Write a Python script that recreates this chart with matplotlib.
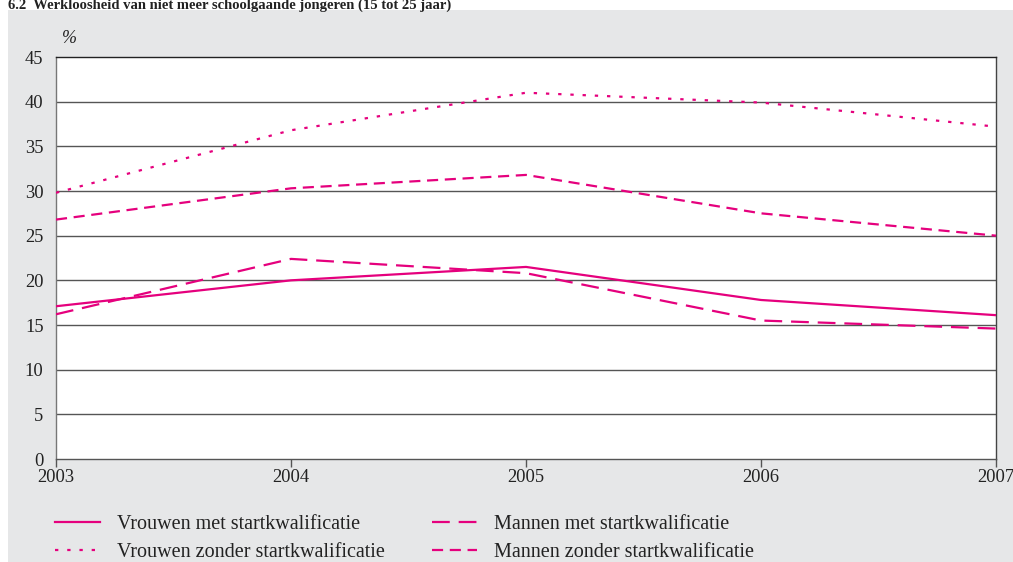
import matplotlib
matplotlib.use("Agg")
import matplotlib.pyplot as plt
from matplotlib.patches import Rectangle

years = [2003, 2004, 2005, 2006, 2007]
vrouwen_met = [17.1, 20.0, 21.5, 17.8, 16.1]
mannen_met = [16.2, 22.4, 20.8, 15.5, 14.6]
vrouwen_zonder = [29.8, 36.8, 41.0, 39.9, 37.2]
mannen_zonder = [26.8, 30.3, 31.8, 27.5, 25.0]
labels = ["Vrouwen met startkwalificatie", "Mannen met startkwalificatie",
          "Vrouwen zonder startkwalificatie", "Mannen zonder startkwalificatie"]
yticks = [0, 5, 10, 15, 20, 25, 30, 35, 40, 45]
title = "6.2  Werkloosheid van niet meer schoolgaande jongeren (15 tot 25 jaar)"

plt.rcParams['font.family'] = ['Liberation Serif', 'DejaVu Serif']
W, H = 1013, 562
fig = plt.figure(figsize=(W / 100, H / 100), dpi=100)
fig.patch.set_facecolor('white')
bg = '#e6e7e8'
fig.patches.append(Rectangle((8 / W, 0), 1 - 8 / W, 1 - 10 / H, transform=fig.transFigure,
                             facecolor=bg, edgecolor='none', zorder=-5))
fig.text(8 / W, 1 - 8.5 / H, title, fontsize=10.5, fontweight='bold', va='baseline', ha='left',
         color='#222222')

ax = fig.add_axes([56 / W, 1 - 459 / H, (996 - 56) / W, (459 - 57) / H])
ax.set_zorder(2)
ax.set_facecolor('white')
mag = '#e5007d'
lw = 1.6
l1, = ax.plot(years, vrouwen_met, color=mag, lw=lw, linestyle='-', label=labels[0], zorder=3)
l2, = ax.plot(years, mannen_met, color=mag, lw=lw, linestyle=(0, (8, 4)), label=labels[1], zorder=3)
l3, = ax.plot(years, vrouwen_zonder, color=mag, lw=lw, linestyle=(0, (1.5, 4)), label=labels[2], zorder=3)
l4, = ax.plot(years, mannen_zonder, color=mag, lw=lw, linestyle=(0, (5, 3)), label=labels[3], zorder=3)

ax.set_xlim(2003, 2007)
ax.set_ylim(0, 45)
ax.set_yticks(yticks)
ax.set_xticks(years)
for y in yticks[1:-1]:
    ax.axhline(y, color='#555555', lw=1.0, zorder=1)
ax.tick_params(axis='y', length=0, pad=9, labelsize=13.3, labelcolor='#222222')
ax.tick_params(axis='x', length=6, width=1, color='#555555', pad=1, labelsize=13.3,
               labelcolor='#222222', direction='out')
ax.spines['left'].set_color('#777777')
ax.spines['bottom'].set_color('#555555')
ax.spines['top'].set_color('#222222')
ax.spines['right'].set_color('#444444')
for s in ax.spines.values():
    s.set_linewidth(1.0)
ax.text((62 - 56) / (996 - 56), 1.025, '%', transform=ax.transAxes, fontsize=13, style='italic',
        ha='left', va='bottom', color='#222222')

leg = fig.legend(handles=[l1, l3, l2, l4], labels=[labels[0], labels[2], labels[1], labels[3]],
                 ncol=2, loc='upper left', bbox_to_anchor=(55 / W, 1 - 515 / H),
                 frameon=False, fontsize=14.5, handlelength=2.25, handletextpad=0.85,
                 columnspacing=2.3, labelspacing=0.42, borderpad=0, borderaxespad=0)
for t in leg.get_texts():
    t.set_color('#222222')

fig.savefig('out.png', dpi=100, facecolor=fig.get_facecolor())
